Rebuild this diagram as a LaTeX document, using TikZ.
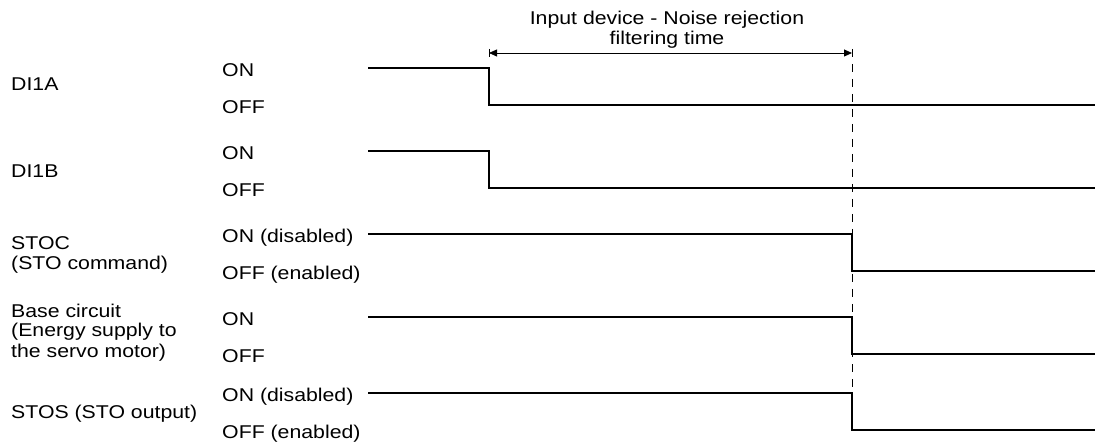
\documentclass[tikz,border=0pt]{standalone}
\usepackage{fontspec}
\setmainfont{Liberation Sans}[FakeStretch=1.15]
\usepackage{tikz}
\usetikzlibrary{arrows.meta,positioning}

\begin{document}
\begin{tikzpicture}[
    x=1pt, y=-1pt,
    sig/.style={line width=1.2pt, line join=miter},
    lvl/.style={anchor=base west, inner sep=0pt, font=\fontsize{18.5}{20}\selectfont},
    sname/.style={anchor=base west, inner sep=0pt, align=left, font=\fontsize{18.5}{20}\selectfont},
    dim/.style={{Triangle[length=8pt,width=7pt]}-{Triangle[length=8pt,width=7pt]}, line width=0.8pt},
    guide/.style={dash pattern=on 8pt off 7pt, line width=0.9pt}
]
    \useasboundingbox (0,0) rectangle (1095,446);

    % Filtering time
    \coordinate (fstart) at (489,53);
    \coordinate (fend) at (852,53);
    \coordinate (cut) at (852,393);
    \node[sname, anchor=base, align=center] (ftitle) at (667,44.5) {Input device - Noise rejection\\filtering time};
    \draw[dim] (fstart) -- (fend);
    \draw[line width=0.8pt] ([yshift=4pt]fstart) -- ([yshift=-4pt]fstart);
    \draw[guide] ([yshift=4pt]fend) -- (cut);

    % Signal names
    \node[sname] (dia) at (11,91) {DI1A};
    \node[sname] (dib) at (11,178) {DI1B};
    \node[sname] (stoc) at (11,269.5) {STOC\\(STO command)};
    \node[sname] (base) at (11,357) {Base circuit\\(Energy supply to\\the servo motor)};
    \node[sname] (stos) at (11,418) {STOS (STO output)};

    % Levels
    \node[lvl] (diaon) at (222,76.5) {ON};
    \node[lvl] (diaoff) at (222,113.5) {OFF};
    \node[lvl] (dibon) at (222,159.5) {ON};
    \node[lvl] (diboff) at (222,196.5) {OFF};
    \node[lvl] (stocon) at (222,242.5) {ON (disabled)};
    \node[lvl] (stocoff) at (222,279.5) {OFF (enabled)};
    \node[lvl] (baseon) at (222,325.5) {ON};
    \node[lvl] (baseoff) at (222,362.5) {OFF};
    \node[lvl] (stoson) at (222,401.5) {ON (disabled)};
    \node[lvl] (stosoff) at (222,438.5) {OFF (enabled)};

    % Waveforms
    \draw[sig] (368,68) -- (489,68) -- (489,105) -- (1095,105);
    \draw[sig] (368,151) -- (489,151) -- (489,188) -- (1095,188);
    \draw[sig] (368,234) -- (852,234) -- (852,271) -- (1095,271);
    \draw[sig] (368,317) -- (852,317) -- (852,354) -- (1095,354);
    \draw[sig] (368,393) -- (cut) -- (852,430) -- (1095,430);
\end{tikzpicture}
\end{document}
